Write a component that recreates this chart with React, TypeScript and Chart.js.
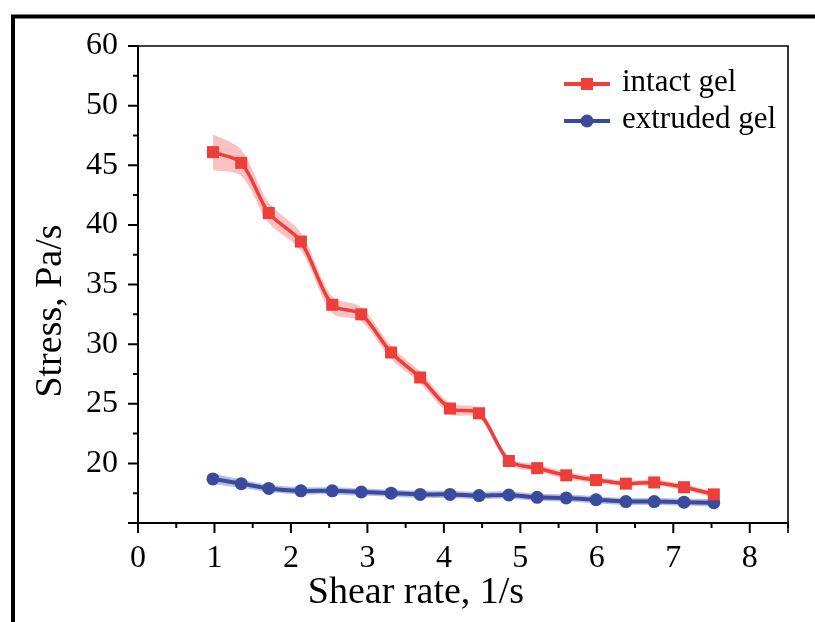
import React, { useEffect, useRef } from "react";
import { Chart, registerables } from "chart.js";

Chart.register(...registerables);

// ---- data ----
const shearRate = [0.98, 1.35, 1.71, 2.13, 2.54, 2.92, 3.31, 3.69, 4.08, 4.46, 4.85, 5.22, 5.6, 5.99, 6.38, 6.75, 7.14, 7.53];
const intactGel = [46.1, 45.2, 41.0, 38.6, 33.3, 32.5, 29.3, 27.2, 24.6, 24.2, 20.2, 19.6, 19.0, 18.6, 18.3, 18.4, 18.0, 17.4];
const intactErr = [1.5, 1.1, 0.85, 0.75, 0.7, 0.6, 0.55, 0.5, 0.45, 0.4, 0.3, 0.3, 0.3, 0.25, 0.25, 0.25, 0.25, 0.25];
const extrudedGel = [18.7, 18.3, 17.9, 17.7, 17.7, 17.6, 17.5, 17.4, 17.4, 17.3, 17.35, 17.15, 17.1, 16.95, 16.8, 16.8, 16.75, 16.7];
const extrudedErr = [0.45, 0.35, 0.3, 0.3, 0.3, 0.3, 0.3, 0.3, 0.3, 0.3, 0.3, 0.3, 0.3, 0.3, 0.3, 0.3, 0.3, 0.3];
const seriesNames = ["intact gel", "extruded gel"];
const xTickValues = [0, 1, 2, 3, 4, 5, 6, 7, 8];
const xTickLabels = ["0", "1", "2", "3", "4", "5", "6", "7", "8"];
// y axis has a break: the 50–60 segment is compressed into one 5-unit step
const yTickValues = [15, 20, 25, 30, 35, 40, 45, 50, 55];
const yTickLabels = ["", "20", "25", "30", "35", "40", "45", "50", "60"];
const xTitle = "Shear rate, 1/s";
const yTitle = "Stress, Pa/s";

const RED = "rgb(238,62,58)";
const RED_BAND = "rgba(240,120,120,0.45)";
const BLUE = "rgb(58,74,158)";
const BLUE_BAND = "rgba(110,130,205,0.5)";
const FONT = "'Liberation Serif', 'Times New Roman', serif";

const pts = (ys: number[], d: number[] = [], s = 0) =>
  shearRate.map((x, i) => ({ x, y: ys[i] + s * (d[i] || 0) }));

const framePlugin = {
  id: "frameAxes",
  afterDraw(chart: any) {
    const ctx = chart.ctx;
    const { left, right, top, bottom } = chart.chartArea;
    const xs = chart.scales.x;
    const ys = chart.scales.y;
    ctx.save();
    // outer black frame
    ctx.strokeStyle = "#000";
    ctx.lineWidth = 4;
    ctx.beginPath();
    ctx.moveTo(13, 622);
    ctx.lineTo(13, 16.5);
    ctx.lineTo(815, 16.5);
    ctx.stroke();
    // plot box
    ctx.lineWidth = 2;
    ctx.beginPath();
    ctx.moveTo(left, top);
    ctx.lineTo(left, bottom);
    ctx.lineTo(right, bottom);
    ctx.stroke();
    ctx.lineWidth = 1.6;
    ctx.beginPath();
    ctx.moveTo(left, top);
    ctx.lineTo(right, top);
    ctx.lineTo(right, bottom + 10);
    ctx.stroke();
    // ticks
    ctx.lineWidth = 2;
    ctx.beginPath();
    for (let v = 0; v <= 8.5001; v += 0.5) {
      const p = xs.getPixelForValue(v);
      const len = Math.abs(v - Math.round(v)) < 1e-6 ? 10 : 5;
      ctx.moveTo(p, bottom);
      ctx.lineTo(p, bottom + len);
    }
    for (let v = 15; v <= 55.0001; v += 2.5) {
      const p = ys.getPixelForValue(v);
      const len = Math.abs(v / 5 - Math.round(v / 5)) < 1e-6 ? 10 : 5;
      ctx.moveTo(left, p);
      ctx.lineTo(left - len, p);
    }
    ctx.stroke();
    // axis titles
    ctx.fillStyle = "#000";
    ctx.font = `38px ${FONT}`;
    ctx.textAlign = "center";
    ctx.textBaseline = "alphabetic";
    ctx.fillText(xTitle, 416, 603);
    ctx.save();
    ctx.translate(61, 311);
    ctx.rotate(-Math.PI / 2);
    ctx.fillText(yTitle, 0, 0);
    ctx.restore();
    // legend
    const rows = [
      { y: 84, color: RED, style: "rect" },
      { y: 121, color: BLUE, style: "circle" },
    ];
    ctx.font = `31px ${FONT}`;
    ctx.textAlign = "left";
    rows.forEach((r, i) => {
      ctx.strokeStyle = r.color;
      ctx.lineWidth = 4;
      ctx.beginPath();
      ctx.moveTo(564, r.y);
      ctx.lineTo(610, r.y);
      ctx.stroke();
      ctx.fillStyle = r.color;
      if (r.style === "rect") {
        ctx.fillRect(581, r.y - 6, 12, 12);
      } else {
        ctx.beginPath();
        ctx.arc(587, r.y, 6.5, 0, Math.PI * 2);
        ctx.fill();
      }
      ctx.fillStyle = "#000";
      ctx.fillText(seriesNames[i], 622, r.y + 7);
    });
    ctx.restore();
  },
};

export default function App() {
  const ref = useRef<HTMLCanvasElement>(null);
  useEffect(() => {
    if (!ref.current) return;
    const common = { tension: 0.3 };
    const chart = new Chart(ref.current, {
      type: "line",
      data: {
        datasets: [
          {
            label: seriesNames[0],
            data: pts(intactGel),
            borderColor: RED,
            backgroundColor: RED,
            borderWidth: 3.5,
            pointStyle: "rect",
            pointRadius: 8.5,
            pointBorderWidth: 0,
            ...common,
            fill: false,
          },
          {
            label: seriesNames[1],
            data: pts(extrudedGel),
            borderColor: BLUE,
            backgroundColor: BLUE,
            borderWidth: 4,
            pointStyle: "circle",
            pointRadius: 6.5,
            pointBorderWidth: 0,
            ...common,
            fill: false,
          },
          {
            label: "intact low",
            data: pts(intactGel, intactErr, -1),
            borderWidth: 0,
            pointRadius: 0,
            ...common,
            fill: false,
          },
          {
            label: "intact high",
            data: pts(intactGel, intactErr, 1),
            borderWidth: 0,
            pointRadius: 0,
            ...common,
            backgroundColor: RED_BAND,
            fill: "-1",
          },
          {
            label: "extruded low",
            data: pts(extrudedGel, extrudedErr, -1),
            borderWidth: 0,
            pointRadius: 0,
            ...common,
            fill: false,
          },
          {
            label: "extruded high",
            data: pts(extrudedGel, extrudedErr, 1),
            borderWidth: 0,
            pointRadius: 0,
            ...common,
            backgroundColor: BLUE_BAND,
            fill: "-1",
          },
        ],
      },
      options: {
        animation: false,
        responsive: false,
        maintainAspectRatio: false,
        layout: { padding: { top: 46, right: 27, left: 0, bottom: 0 } },
        plugins: { legend: { display: false }, tooltip: { enabled: false } },
        scales: {
          x: {
            type: "linear",
            min: 0,
            max: 8.5,
            afterFit: (s: any) => {
              s.height = 99;
            },
            afterBuildTicks: (s: any) => {
              s.ticks = xTickValues.map((v) => ({ value: v }));
            },
            grid: { display: false, drawTicks: false },
            border: { display: false },
            ticks: {
              padding: 16,
              color: "#000",
              font: { family: FONT, size: 32 },
              maxRotation: 0,
              callback: (v: any) => {
                const i = xTickValues.indexOf(Number(v));
                return i >= 0 ? xTickLabels[i] : "";
              },
            },
          },
          y: {
            type: "linear",
            min: 15,
            max: 55,
            afterFit: (s: any) => {
              s.width = 138;
            },
            afterBuildTicks: (s: any) => {
              s.ticks = yTickValues.map((v) => ({ value: v }));
            },
            grid: { display: false, drawTicks: false },
            border: { display: false },
            ticks: {
              padding: 20,
              color: "#000",
              font: { family: FONT, size: 32 },
              callback: (v: any) => {
                const i = yTickValues.indexOf(Number(v));
                return i >= 0 ? yTickLabels[i] : "";
              },
            },
          },
        },
      },
      plugins: [framePlugin],
    });
    return () => chart.destroy();
  }, []);
  return (
    <div style={{ position: "absolute", left: 0, top: 0, width: 815, height: 622, background: "#fff" }}>
      <canvas ref={ref} width={815} height={622} />
    </div>
  );
}
